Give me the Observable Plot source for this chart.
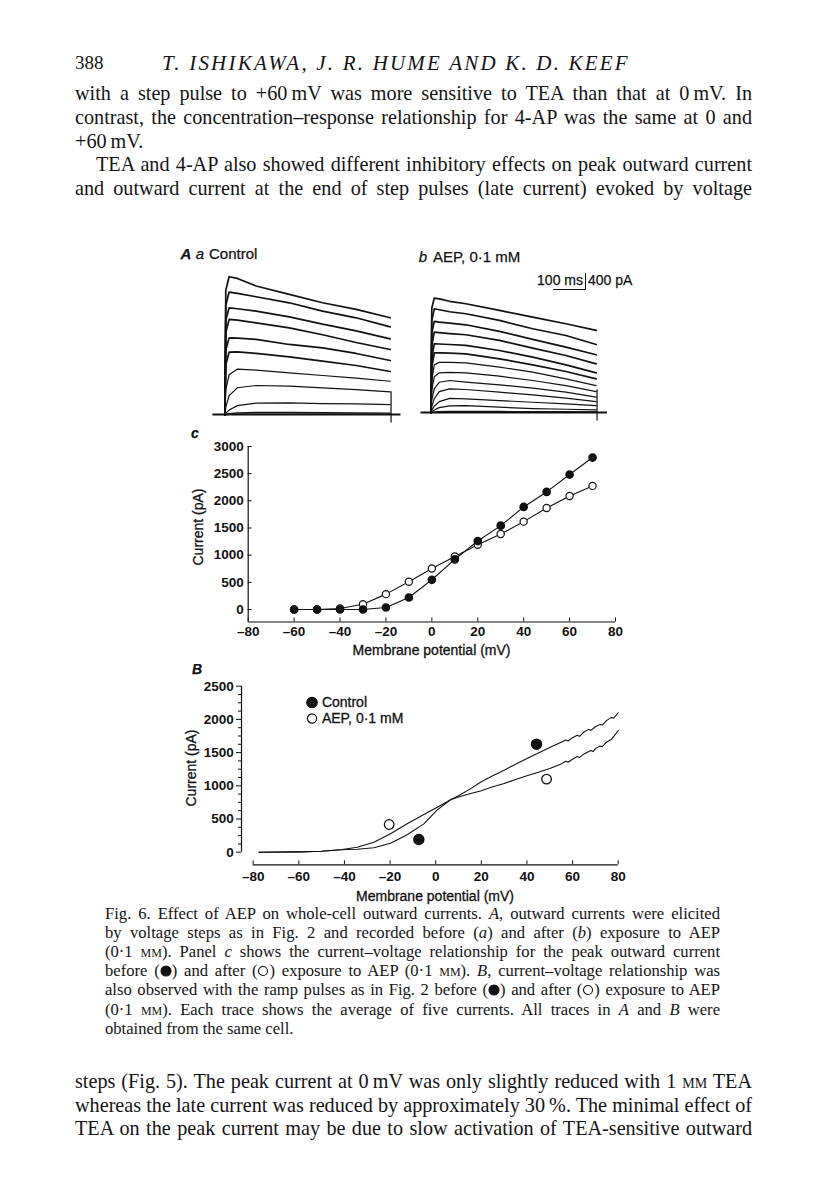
<!DOCTYPE html>
<html><head><meta charset="utf-8">
<script src="https://cdn.jsdelivr.net/npm/d3@7"></script>
<script src="https://cdn.jsdelivr.net/npm/@observablehq/plot@0.6"></script>
<style>
html,body{margin:0;padding:0;background:#fff;}
#page{position:relative;width:816px;height:1200px;overflow:hidden;color:#141414;}
.t{position:absolute;left:75px;width:677px;font-family:"Liberation Serif",serif;font-size:20.2px;line-height:22px;word-spacing:-3px;text-align:justify;text-align-last:justify;}
.cap{position:absolute;left:105px;width:615px;font-family:"Liberation Serif",serif;font-size:16.6px;line-height:18px;word-spacing:-2px;text-align:justify;text-align-last:justify;}
.left{text-align:left;text-align-last:left;word-spacing:0;}
.sc{font-variant:small-caps;}
.sans{position:absolute;font-family:"Liberation Sans",Arial,sans-serif;white-space:nowrap;transform:translate(-50%,-50%);}
.plot{position:absolute;}
.plot svg{overflow:visible;background:transparent;}
</style></head><body><div id="page"></div>
<script>
// ---------------- data ----------------
// Panel A: step-evoked currents (pA) sampled at these times (ms after step onset)
const controlStepTimesMs = [0, 2, 10, 30, 75, 155, 235, 316, 398];
const controlStepCurrentsPA = [
  [0, 2500, 2775, 2740, 2587, 2419, 2250, 2117, 1948],
  [0, 2200, 2466, 2440, 2371, 2250, 2083, 1948, 1766],
  [0, 1900, 2149, 2130, 2083, 1968, 1821, 1686, 1524],
  [0, 1650, 1915, 1900, 1847, 1746, 1607, 1451, 1310],
  [0, 1300, 1544, 1540, 1512, 1411, 1343, 1230, 1089],
  [0, 1000, 1256, 1260, 1230, 1161, 1075, 988, 867],
  [0, 500, 800, 915, 893, 839, 786, 732, 671],
  [0, 150, 380, 540, 585, 571, 536, 504, 456],
  [0, 30, 90, 180, 230, 234, 222, 214, 202],
  [0, 5, 20, 35, 46, 45, 40, 36, 32],
  [0, 0, 5, 8, 10, 10, 10, 8, 8]
];
const aepStepTimesMs = [0, 2, 8, 20, 45, 84, 165, 245, 325, 398];
const aepStepCurrentsPA = [
  [0, 2100, 2305, 2290, 2240, 2191, 2056, 1922, 1788, 1653],
  [0, 1850, 2090, 2070, 2030, 1989, 1855, 1687, 1552, 1371],
  [0, 1600, 1835, 1820, 1800, 1767, 1633, 1472, 1317, 1163],
  [0, 1350, 1620, 1610, 1590, 1566, 1452, 1297, 1149, 981],
  [0, 1100, 1384, 1380, 1370, 1351, 1250, 1116, 961, 800],
  [0, 900, 1203, 1200, 1195, 1183, 1082, 961, 827, 679],
  [0, 650, 960, 1010, 1010, 1001, 914, 813, 679, 544],
  [0, 450, 720, 800, 810, 800, 732, 645, 544, 423],
  [0, 250, 480, 610, 645, 612, 558, 491, 410, 309],
  [0, 120, 280, 420, 477, 464, 410, 356, 289, 222],
  [0, 50, 130, 220, 285, 276, 242, 208, 175, 141],
  [0, 15, 50, 100, 135, 141, 108, 81, 67, 54],
  [0, 3, 10, 20, 25, 25, 22, 20, 18, 16]
];
const pulseEndMs = 400;
const controlHoldingMs = [-29, 424];
const aepHoldingMs = [-24, 425];
const tailCurrentRangePA = [-170, 460];

// Panel c: peak current-voltage relation
const stepVoltagesMV = [-60, -50, -40, -30, -20, -10, 0, 10, 20, 30, 40, 50, 60, 70];
const peakControlPA = [0, 0, 0, 0, 37, 221, 547, 922, 1260, 1543, 1887, 2164, 2484, 2797];
const peakAepPA = [0, 0, 18, 98, 283, 510, 756, 977, 1193, 1389, 1617, 1869, 2090, 2275];

// Panel B: ramp current-voltage relation [mV, pA]
const rampControl = [[-77.5,0],[-60,5],[-50,15],[-41.7,36],[-34.4,45],[-27.1,66],[-19.8,136],[-12.5,262],[-5.2,427],[0.7,638],[6.5,789],[10,850],[15,950],[20,1060],[25,1150],[30,1235],[35,1325],[40,1410],[45,1495],[50,1578],[55,1655],[57,1690],[58,1675],[60,1725],[62,1760],[63,1745],[65,1810],[67,1850],[68,1835],[70,1890],[72,1925],[73,1915],[75,1985],[77,2030],[78,2020],[80,2100]];
const rampAep = [[-77.5,0],[-60,5],[-50,15],[-41.7,36],[-34.4,75],[-27.1,150],[-19.8,277],[-12.5,427],[-5.2,568],[0.7,678],[6.5,789],[10,830],[15,880],[20,925],[25,985],[30,1035],[35,1095],[40,1150],[45,1205],[50,1260],[55,1330],[57,1370],[58,1355],[60,1400],[62,1440],[63,1425],[65,1480],[68,1530],[69,1515],[70,1560],[72,1600],[73,1590],[75,1660],[77,1700],[78,1740],[80,1833]];
const rampMarkersControl = [[-7.4, 191], [44.2, 1627]];
const rampMarkersAep = [[-20.4, 417], [48.6, 1100]];

// tick labels
const voltageTicks = [-80, -60, -40, -20, 0, 20, 40, 60, 80];
const currentTicksC = [0, 500, 1000, 1500, 2000, 2500, 3000];
const currentTicksB = [0, 500, 1000, 1500, 2000, 2500];
const currentMinorTicksB = [125, 250, 375, 625, 750, 875, 1125, 1250, 1375, 1625, 1750, 1875, 2125, 2250, 2375];

// ---------------- page ----------------
const page = document.getElementById("page");
function el(tag, cls, css, html) {
  const e = document.createElement(tag);
  if (cls) e.className = cls;
  Object.assign(e.style, css);
  if (html != null) e.innerHTML = html;
  page.appendChild(e);
  return e;
}
const mM = '<span class="sc">mm</span>';
const sym = (filled) => `<svg width="12" height="12" style="vertical-align:-1px"><circle cx="6" cy="6" r="${filled ? 5 : 4.5}" fill="${filled ? "#111" : "#fff"}" stroke="#111" stroke-width="1.1"/></svg>`;

// header
el("div", null, {position:"absolute", left:"75px", top:"52px", fontFamily:"Liberation Serif", fontSize:"19px"}, "388");
el("div", null, {position:"absolute", left:"162px", top:"51px", fontFamily:"Liberation Serif", fontSize:"21px", fontStyle:"italic", letterSpacing:"2.2px", whiteSpace:"nowrap"}, "T. ISHIKAWA, J. R. HUME AND K. D. KEEF");

const topLines = [
  "with a step pulse to +60\u2009mV was more sensitive to TEA than that at 0\u2009mV. In",
  "contrast, the concentration\u2013response relationship for 4-AP was the same at 0 and",
  "+60\u2009mV.",
  "TEA and 4-AP also showed different inhibitory effects on peak outward current",
  "and outward current at the end of step pulses (late current) evoked by voltage"
];
topLines.forEach((s, i) => {
  const e = el("div", "t" + (i === 2 ? " left" : ""), {top: (82 + i * 23.8) + "px"}, s);
  if (i === 3) { e.style.left = "96px"; e.style.width = "656px"; }
});

const capLines = [
  "Fig. 6. Effect of AEP on whole-cell outward currents. <i>A</i>, outward currents were elicited",
  "by voltage steps as in Fig. 2 and recorded before (<i>a</i>) and after (<i>b</i>) exposure to AEP",
  "(0\u00b71 " + mM + "). Panel <i>c</i> shows the current\u2013voltage relationship for the peak outward current",
  "before (" + sym(true) + ") and after (" + sym(false) + ") exposure to AEP (0\u00b71 " + mM + "). <i>B</i>, current\u2013voltage relationship was",
  "also observed with the ramp pulses as in Fig. 2 before (" + sym(true) + ") and after (" + sym(false) + ") exposure to AEP",
  "(0\u00b71 " + mM + "). Each trace shows the average of five currents. All traces in <i>A</i> and <i>B</i> were",
  "obtained from the same cell."
];
capLines.forEach((s, i) => el("div", "cap" + (i === 6 ? " left" : ""), {top: (905 + i * 19.1) + "px"}, s));

const bottomLines = [
  "steps (Fig. 5). The peak current at 0\u2009mV was only slightly reduced with 1 " + mM + " TEA",
  "whereas the late current was reduced by approximately 30\u2009%. The minimal effect of",
  "TEA on the peak current may be due to slow activation of TEA-sensitive outward"
];
bottomLines.forEach((s, i) => el("div", "t", {top: (1070 + i * 23.5) + "px"}, s));

// panel labels
const lab = {fontSize: "15px", color: "#111", WebkitTextStroke: "0.25px #111"};
el("div", "sans", {...lab, left: "186px", top: "253px", fontStyle: "italic", fontWeight: "bold"}, "A");
el("div", "sans", {...lab, left: "200px", top: "253px", fontStyle: "italic"}, "a");
el("div", "sans", {...lab, left: "209px", top: "253px", transform: "translate(0,-50%)"}, "Control");
el("div", "sans", {...lab, left: "423px", top: "256px", fontStyle: "italic"}, "b");
el("div", "sans", {...lab, left: "433px", top: "256px", transform: "translate(0,-50%)"}, "AEP, 0\u00b71 mM");
// scale bar
el("div", "sans", {...lab, fontSize: "14px", left: "583px", top: "280px", transform: "translate(-100%,-50%)"}, "100 ms");
el("div", "sans", {...lab, fontSize: "14px", left: "588px", top: "280px", transform: "translate(0,-50%)"}, "400 pA");
el("div", null, {position: "absolute", left: "553px", top: "289px", width: "32px", borderTop: "1.3px solid #111"});
el("div", null, {position: "absolute", left: "584.5px", top: "273px", height: "17px", borderLeft: "1.3px solid #111"});

el("div", "sans", {...lab, left: "195px", top: "433px", fontStyle: "italic", fontWeight: "bold", fontSize: "14px"}, "c");
el("div", "sans", {...lab, left: "197px", top: "669px", fontStyle: "italic", fontWeight: "bold", fontSize: "14px"}, "B");

// axis titles
const ttl = {fontSize: "14px", color: "#111", WebkitTextStroke: "0.3px #111", lineHeight: "15px"};
el("div", "sans", {...ttl, left: "198px", top: "527px", transform: "translate(-50%,-50%) rotate(-90deg)"}, "Current (pA)");
el("div", "sans", {...ttl, left: "431.5px", top: "650px"}, "Membrane potential (mV)");
el("div", "sans", {...ttl, left: "191px", top: "768px", transform: "translate(-50%,-50%) rotate(-90deg)"}, "Current (pA)");
el("div", "sans", {...ttl, left: "435px", top: "896px"}, "Membrane potential (mV)");

// legend of B
const legSvg = (filled) => `<svg width="12" height="12" style="vertical-align:middle"><circle cx="6" cy="6" r="${filled ? 5.2 : 4.6}" fill="${filled ? "#111" : "#fff"}" stroke="#111" stroke-width="1.2"/></svg>`;
el("div", "sans", {...ttl, fontSize: "14px", left: "306px", top: "702px", transform: "translate(0,-50%)"}, legSvg(true) + "&nbsp;Control");
el("div", "sans", {...ttl, fontSize: "14px", left: "306px", top: "717.5px", transform: "translate(0,-50%)"}, legSvg(false) + "&nbsp;AEP, 0\u00b71 mM");

// ---------------- plots ----------------
function place(svg, left, top) {
  const d = el("div", "plot", {left: left + "px", top: top + "px"});
  d.appendChild(svg);
}
const fmt = d => d < 0 ? "\u2013" + (-d) : String(d);
const axisFont = {fontSize: 13.5, fontWeight: "bold"};
const plotStyle = {fontFamily: "Liberation Sans, Arial, sans-serif", fontSize: "13.5px", color: "#111", background: "transparent", overflow: "visible"};

function stepsPlot(times, rows, hold) {
  const data = rows.flatMap((r, k) => r.map((I, i) => ({t: times[i], I, k})));
  return Plot.plot({
    width: 191, height: 154, margin: 0,
    style: plotStyle,
    x: {domain: [-30, 430], axis: null},
    y: {domain: [-200, 2900], axis: null},
    marks: [
      Plot.ruleY([0], {x1: hold[0], x2: hold[1], strokeWidth: 1.9, stroke: "#111"}),
      Plot.ruleX([pulseEndMs], {y1: tailCurrentRangePA[0], y2: tailCurrentRangePA[1], strokeWidth: 1.2, stroke: "#111"}),
      Plot.line(data, {x: "t", y: "I", z: "k", stroke: "#111", strokeWidth: d => d.k < 6 ? 1.7 : 1.2, curve: "linear"})
    ]
  });
}
place(stepsPlot(controlStepTimesMs, controlStepCurrentsPA, controlHoldingMs), 211.5, 269.5);
place(stepsPlot(aepStepTimesMs, aepStepCurrentsPA, aepHoldingMs), 417.5, 268.2);

// Panel c
const peakC = stepVoltagesMV.map((v, i) => ({v, I: peakControlPA[i]}));
const peakA = stepVoltagesMV.map((v, i) => ({v, I: peakAepPA[i]}));
place(Plot.plot({
  width: 445, height: 240, marginLeft: 67.7, marginRight: 10, marginTop: 21, marginBottom: 43.5,
  style: plotStyle,
  x: {domain: [-80, 80], label: null},
  y: {domain: [-230, 3000], label: null},
  marks: [
    Plot.ruleX([-80], {stroke: "#111", strokeWidth: 1.2}),
    Plot.ruleY([-230], {stroke: "#111", strokeWidth: 1.2}),
    Plot.axisX({ticks: voltageTicks, tickSize: -4, tickPadding: 8.4, tickFormat: fmt, label: null, ...axisFont}),
    Plot.axisY({ticks: currentTicksC, tickSize: -4, tickPadding: 8.4, tickFormat: fmt, label: null, ...axisFont}),
    Plot.line(peakA, {x: "v", y: "I", stroke: "#111", strokeWidth: 1.1}),
    Plot.line(peakC, {x: "v", y: "I", stroke: "#111", strokeWidth: 1.1}),
    Plot.dot(peakA, {x: "v", y: "I", r: 3.6, fill: "#fff", stroke: "#111", strokeWidth: 1.2}),
    Plot.dot(peakC, {x: "v", y: "I", r: 3.6, fill: "#111", stroke: "#111"})
  ]
}), 180, 425);

// Panel B
const rc = rampControl.map(([v, I]) => ({v, I}));
const ra = rampAep.map(([v, I]) => ({v, I}));
const mc = rampMarkersControl.map(([v, I]) => ({v, I}));
const ma = rampMarkersAep.map(([v, I]) => ({v, I}));
place(Plot.plot({
  width: 450, height: 230, marginLeft: 72.7, marginRight: 12.3, marginTop: 15.7, marginBottom: 48.3,
  style: plotStyle,
  x: {domain: [-80, 80], label: null},
  y: {domain: [0, 2500], label: null},
  marks: [
    Plot.ruleX([-80], {dx: -11.7, stroke: "#111", strokeWidth: 1.2}),
    Plot.ruleY([0], {dy: 12.6, stroke: "#111", strokeWidth: 1.2}),
    Plot.axisY({ticks: currentTicksB, tickSize: 5, tickPadding: 2.7, dx: -11.7, tickFormat: fmt, label: null, ...axisFont}),
    Plot.axisY({ticks: currentMinorTicksB, tickSize: 3, dx: -11.7, tickFormat: () => "", label: null}),
    Plot.axisX({ticks: voltageTicks, tickSize: -4, tickPadding: 11, dy: 12.6, tickFormat: fmt, label: null, ...axisFont}),
    Plot.line(rc, {x: "v", y: "I", stroke: "#111", strokeWidth: 1.1}),
    Plot.line(ra, {x: "v", y: "I", stroke: "#111", strokeWidth: 1.1}),
    Plot.dot(mc, {x: "v", y: "I", r: 5, fill: "#111", stroke: "#111"}),
    Plot.dot(ma, {x: "v", y: "I", r: 4.8, fill: "#fff", stroke: "#111", strokeWidth: 1.3})
  ]
}), 180, 670);
</script></body></html>
